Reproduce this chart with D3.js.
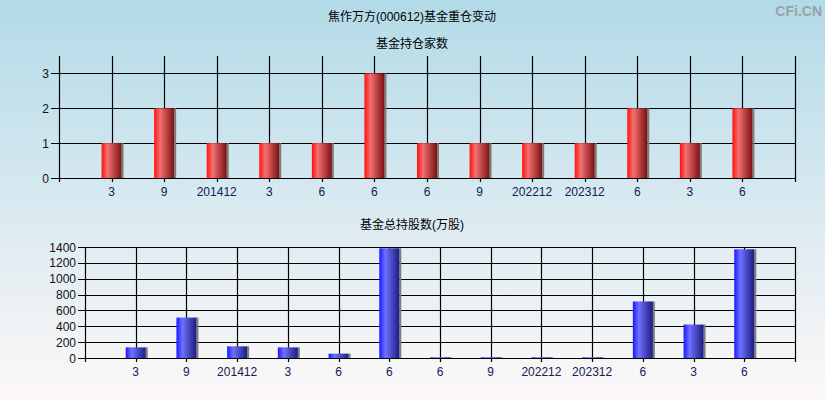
<!DOCTYPE html>
<html><head><meta charset="utf-8">
<script src="https://cdn.jsdelivr.net/npm/d3@7"></script>
<style>html,body{margin:0;padding:0;overflow:hidden}svg{display:block}</style>
</head><body>
<svg id="c" width="825" height="400"></svg>
<script>
const categories = ["3","9","201412","3","6","6","6","9","202212","202312","6","3","6"];
const fundCounts = [1,2,1,1,1,3,1,1,1,1,2,1,2];
const fundShares = [134,510,147,134,55,1384,9,9,9,9,713,422,1371];
const countTicks = [0,1,2,3];
const shareTicks = [0,200,400,600,800,1000,1200,1400];
const mainTitle = "焦作万方(000612)基金重仓变动";
const title1 = "基金持仓家数";
const title2 = "基金总持股数(万股)";

const svg = d3.select("#c");
const FONT = "'Liberation Sans', Arial, 'Noto Sans CJK SC', sans-serif";
const defs = svg.append("defs");
const bg = defs.append("linearGradient").attr("id","bg").attr("x1",0).attr("y1",0).attr("x2",0).attr("y2",1);
bg.append("stop").attr("offset","0%").attr("stop-color","#b2dae7");
bg.append("stop").attr("offset","50%").attr("stop-color","#d8e9f0");
bg.append("stop").attr("offset","100%").attr("stop-color","#fdf8f8");
function barGrad(id, c0, c1, c2){
  const g = defs.append("linearGradient").attr("id",id).attr("x1",0).attr("y1",0).attr("x2",1).attr("y2",0);
  g.append("stop").attr("offset","0%").attr("stop-color",c0);
  g.append("stop").attr("offset","30%").attr("stop-color",c1);
  g.append("stop").attr("offset","100%").attr("stop-color",c2);
}
barGrad("red","#ff1010","#f47070","#7a1010");
barGrad("blue","#1818ff","#7070ff","#1c1c80");

svg.append("rect").attr("width",825).attr("height",400).attr("fill","url(#bg)");

svg.append("text").attr("x",412).attr("y",21).attr("text-anchor","middle")
  .attr("font-family",FONT).attr("font-size",12).attr("fill","#000").text(mainTitle);
svg.append("text").attr("x",822).attr("y",16).attr("text-anchor","end")
  .attr("font-family",FONT).attr("font-size",14).attr("font-weight","bold").attr("fill","#9aa3a8").text("CFi.CN");

function panel(opt){
  const {left,right,top,bottom,values,ticks,domainMax,grad,title,titleY,tickLen} = opt;
  const g = svg.append("g");
  const x = d3.scalePoint().domain(d3.range(categories.length)).range([left,right]).padding(1);
  const y = d3.scaleLinear().domain([0,domainMax]).range([bottom,top]);
  g.append("text").attr("x",412).attr("y",titleY).attr("text-anchor","middle")
    .attr("font-family",FONT).attr("font-size",12).attr("fill","#000").text(title);
  // horizontal grid
  g.selectAll("line.h").data(ticks).join("line")
    .attr("x1",left-tickLen).attr("x2",right).attr("y1",d=>Math.round(y(d))+0.5).attr("y2",d=>Math.round(y(d))+0.5)
    .attr("stroke","#000").attr("stroke-width",1.2);
  // vertical grid
  g.selectAll("line.v").data(d3.range(categories.length)).join("line")
    .attr("x1",d=>Math.round(x(d))+0.5).attr("x2",d=>Math.round(x(d))+0.5).attr("y1",top).attr("y2",bottom+4)
    .attr("stroke","#000").attr("stroke-width",1.2);
  // axes
  [left,right].forEach(xx=>{
    g.append("line").attr("x1",xx+0.5).attr("x2",xx+0.5).attr("y1",top).attr("y2",bottom+4)
      .attr("stroke","#000").attr("stroke-width",1.2);
  });
  // bars
  const bw = 20;
  g.selectAll("rect.s").data(values).join("rect")
    .attr("x",(d,i)=>x(i)+bw/2).attr("width",2)
    .attr("y",d=>y(d)).attr("height",d=>Math.max(0,y(0)-y(d)))
    .attr("fill","#7d7d7d");
  g.selectAll("rect.b").data(values).join("rect")
    .attr("x",(d,i)=>x(i)-bw/2).attr("width",bw)
    .attr("y",d=>y(d)).attr("height",d=>Math.max(0,y(0)-y(d)))
    .attr("fill",`url(#${grad})`);
  // y labels
  g.selectAll("text.y").data(ticks).join("text")
    .attr("x",left-tickLen-2).attr("y",d=>y(d)+4.5).attr("text-anchor","end")
    .attr("font-family",FONT).attr("font-size",12).attr("fill","#111").text(d=>d);
  // x labels
  g.selectAll("text.x").data(categories).join("text")
    .attr("x",(d,i)=>x(i)).attr("y",bottom+18).attr("text-anchor","middle")
    .attr("font-family",FONT).attr("font-size",12).attr("fill","#102050").text(d=>d);
}

panel({left:59,right:795,top:56,bottom:178,values:fundCounts,ticks:countTicks,domainMax:3.5,
  grad:"red",title:title1,titleY:48,tickLen:8});
panel({left:85,right:795,top:247,bottom:358,values:fundShares,ticks:shareTicks,domainMax:1400,
  grad:"blue",title:title2,titleY:229,tickLen:7});
</script>
</body></html>
